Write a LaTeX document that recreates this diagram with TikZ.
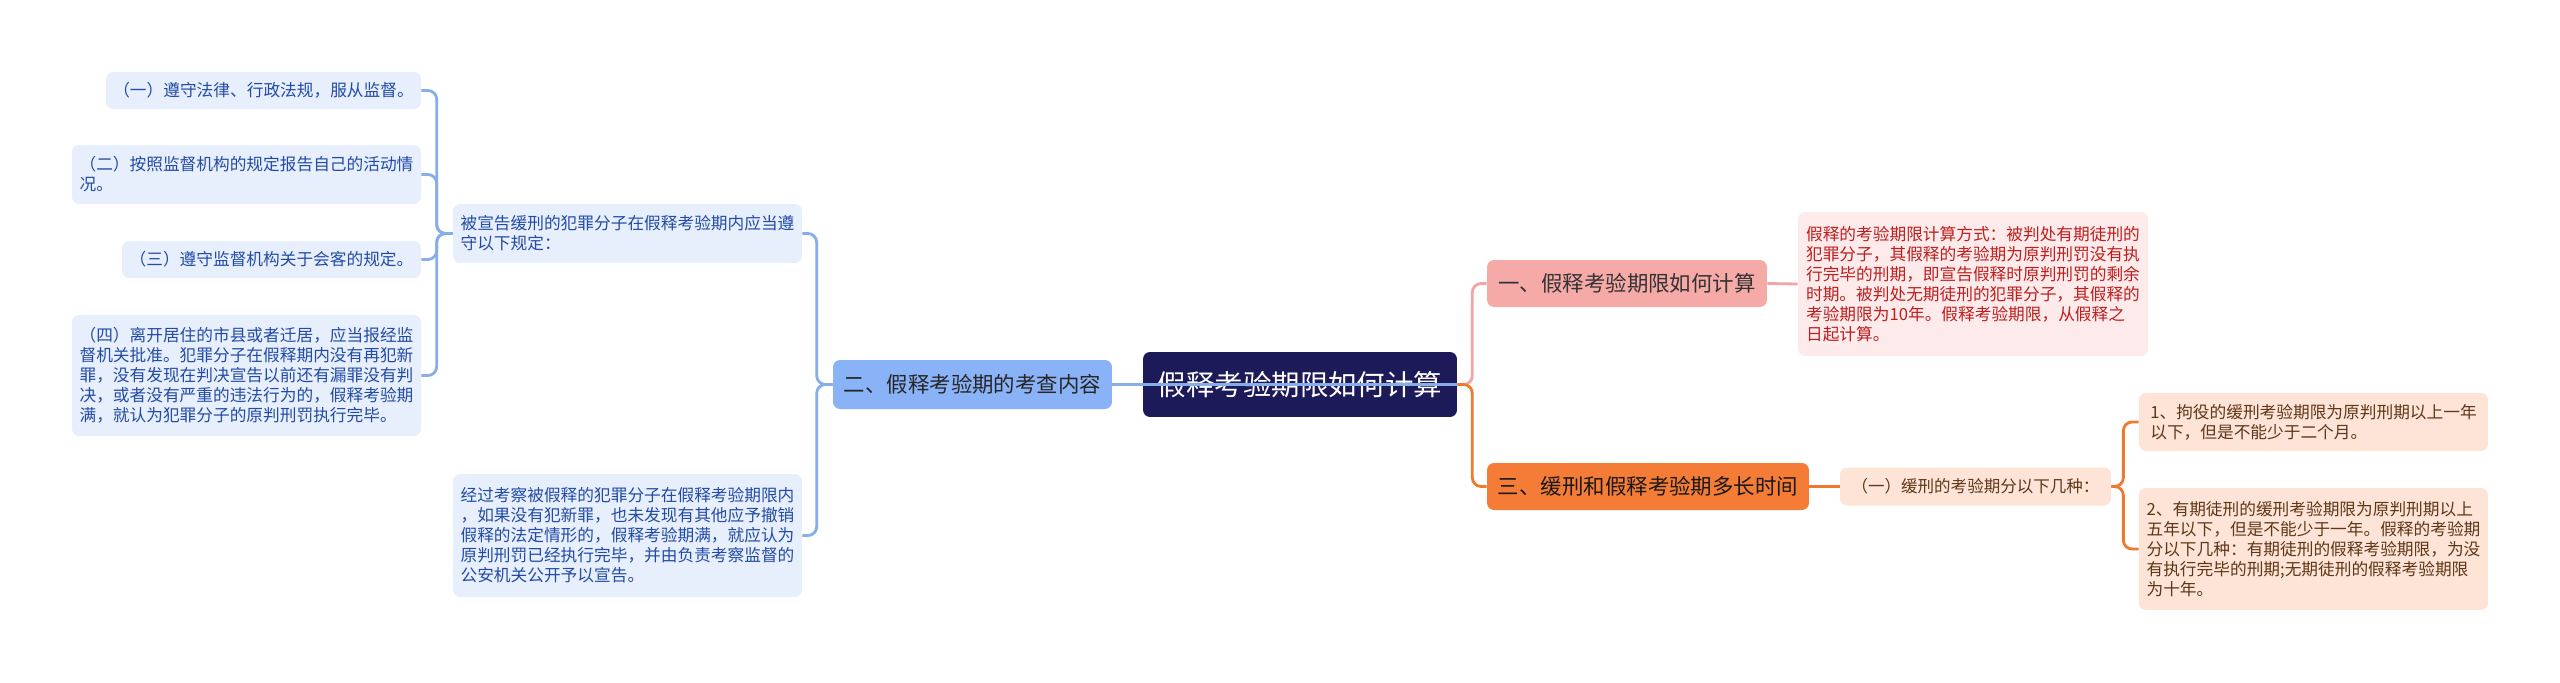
\documentclass[tikz,border=0pt]{standalone}
\usepackage{fontspec}
\setmainfont{Noto Sans CJK SC}

\definecolor{rootfill}{RGB}{28,26,88}
\definecolor{bluefill}{RGB}{138,178,247}
\definecolor{blueleaf}{RGB}{231,239,252}
\definecolor{bluetext}{RGB}{35,75,165}
\definecolor{blueline}{RGB}{135,173,235}
\definecolor{pinkfill}{RGB}{246,170,168}
\definecolor{pinkleaf}{RGB}{253,235,235}
\definecolor{pinktext}{RGB}{190,30,30}
\definecolor{pinkline}{RGB}{242,165,165}
\definecolor{orangefill}{RGB}{245,124,55}
\definecolor{orangeleaf}{RGB}{253,228,214}
\definecolor{orangetext}{RGB}{95,55,25}
\definecolor{orangeline}{RGB}{238,122,50}

\begin{document}
\begin{tikzpicture}[
    x=0.02cm, y=-0.02cm,
    box/.style={rounded corners=4pt, inner sep=0pt, align=left},
    rootbox/.style={box, fill=rootfill, text=white, align=center,
                    font=\fontsize{16.2pt}{19pt}\selectfont},
    topic/.style={box, align=center, font=\fontsize{12.2pt}{14pt}\selectfont},
    leaf/.style={box, font=\fontsize{9.5pt}{11.4pt}\selectfont},
    bleaf/.style={leaf, fill=blueleaf, text=bluetext},
    pleaf/.style={leaf, fill=pinkleaf, text=pinktext},
    oleaf/.style={leaf, fill=orangeleaf, text=orangetext},
    link/.style={line width=1.6pt, rounded corners=5pt},
]

\def\gap{16}

% canvas
\useasboundingbox (0,0) rectangle (2560,683);
\fill[white] (0,0) rectangle (2560,683);

% Root
\node[rootbox, minimum width=6.28cm, minimum height=1.3cm] (root) at (1300,384.5)
    {假释考验期限如何计算};

% Main topics
\node[topic, fill=bluefill, text=black!85, minimum width=5.58cm, minimum height=0.98cm]
    (t2) at (972.5,384.5) {二、假释考验期的考查内容};
\node[topic, fill=pinkfill, text=black!80, minimum width=5.6cm, minimum height=0.94cm]
    (t1) at (1627,283.5) {一、假释考验期限如何计算};
\node[topic, fill=orangefill, text=black!90, minimum width=6.44cm, minimum height=0.94cm]
    (t3) at (1648,486.5) {三、缓刑和假释考验期多长时间};

% Left branch
\node[bleaf, minimum width=6.98cm, minimum height=1.18cm] (m1) at (627.5,233.5)
    {被宣告缓刑的犯罪分子在假释考验期内应当遵\\守以下规定：};
\node[bleaf, minimum width=6.98cm, minimum height=2.46cm] (m2) at (627.5,535.5)
    {经过考察被假释的犯罪分子在假释考验期限内\\，如果没有犯新罪，也未发现有其他应予撤销\\假释的法定情形的，假释考验期满，就应认为\\原判刑罚已经执行完毕，并由负责考察监督的\\公安机关公开予以宣告。};

\node[bleaf, minimum width=6.3cm, minimum height=0.74cm] (l1) at (263.5,90.5)
    {（一）遵守法律、行政法规，服从监督。};
\node[bleaf, minimum width=6.98cm, minimum height=1.18cm] (l2) at (246.5,174.5)
    {（二）按照监督机构的规定报告自己的活动情\\况。};
\node[bleaf, minimum width=5.98cm, minimum height=0.74cm] (l3) at (271.5,259.5)
    {（三）遵守监督机构关于会客的规定。};
\node[bleaf, minimum width=6.98cm, minimum height=2.42cm] (l4) at (246.5,375.5)
    {（四）离开居住的市县或者迁居，应当报经监\\督机关批准。犯罪分子在假释期内没有再犯新\\罪，没有发现在判决宣告以前还有漏罪没有判\\决，或者没有严重的违法行为的，假释考验期\\满，就认为犯罪分子的原判刑罚执行完毕。};

% Right branches
\node[pleaf, minimum width=7.0cm, minimum height=2.88cm] (p1) at (1973,284)
    {假释的考验期限计算方式：被判处有期徒刑的\\犯罪分子，其假释的考验期为原判刑罚没有执\\行完毕的刑期，即宣告假释时原判刑罚的剩余\\时期。被判处无期徒刑的犯罪分子，其假释的\\考验期限为10年。假释考验期限，从假释之\\日起计算。};

\node[oleaf, align=center, font=\fontsize{9.4pt}{11pt}\selectfont,
      minimum width=5.42cm, minimum height=0.76cm] (q0) at (1975.5,486.5)
    {（一）缓刑的考验期分以下几种：};
\node[oleaf, minimum width=6.98cm, minimum height=1.16cm] (q1) at (2313.5,422)
    {1、拘役的缓刑考验期限为原判刑期以上一年\\以下，但是不能少于二个月。};
\node[oleaf, minimum width=6.98cm, minimum height=2.44cm] (q2) at (2313.5,549)
    {2、有期徒刑的缓刑考验期限为原判刑期以上\\五年以下，但是不能少于一年。假释的考验期\\分以下几种：有期徒刑的假释考验期限，为没\\有执行完毕的刑期;无期徒刑的假释考验期限\\为十年。};

% Connectors
\draw[link, blueline] (t2.east) -- (root.east);
\draw[link, pinkline] (root.east) -- ++(15,0) |- (t1.west);
\draw[link, orangeline] (root.east) -- ++(15,0) |- (t3.west);
\draw[link, pinkline] (t1.east) -- (p1.west);
\draw[link, orangeline] (t3.east) -- (q0.west);
\foreach \n in {q1,q2}
    \draw[link, orangeline] (q0.east) -- ++(12,0) |- (\n.west);
\foreach \n in {m1,m2}
    \draw[link, blueline] (t2.west) -- ++(-\gap,0) |- (\n.east);
\foreach \n in {l1,l2,l3,l4}
    \draw[link, blueline] (m1.west) -- ++(-\gap,0) |- (\n.east);

\end{tikzpicture}
\end{document}
